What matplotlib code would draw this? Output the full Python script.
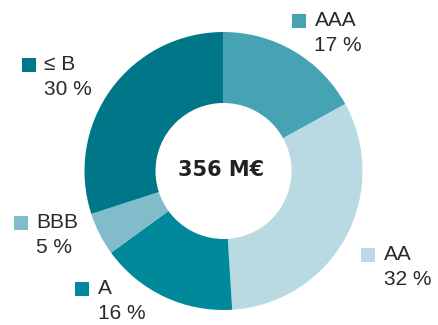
import matplotlib
matplotlib.use("Agg")
import matplotlib.pyplot as plt
from matplotlib.patches import Rectangle, Circle

# Portfolio breakdown by rating
categories = ["AAA", "AA", "A", "BBB", "≤ B"]
shares = [17, 32, 16, 5, 30]
colors = ["#45a3b3", "#b9dae3", "#00899b", "#80bcca", "#007788"]
total_label = "356 M€"

W, H = 438, 325
fig = plt.figure(figsize=(W / 100, H / 100), dpi=100)
ax = fig.add_axes([0, 0, 1, 1])

cx, cy, r_out, r_in = 223.5, H - 171, 139, 68

ax.pie(shares, colors=colors, startangle=90, counterclock=False,
       center=(cx, cy), radius=r_out, frame=True,
       wedgeprops=dict(linewidth=0))
ax.set_xlim(0, W)
ax.set_ylim(0, H)
ax.set_aspect("equal")
ax.axis("off")
ax.add_patch(Circle((cx, cy), r_in, facecolor="white", edgecolor="none", zorder=3))
ax.text(cx - 2, cy + 0.5, total_label, ha="center", va="center", fontsize=15,
        fontweight="bold", color="#222222", family="DejaVu Sans", zorder=4)

# label anchors: top-left of the colour square (x, y from top)
anchors = {
    "AAA": (292, 14),
    "AA": (361, 248),
    "A": (75, 282),
    "BBB": (14, 216),
    "≤ B": (22, 58),
}
sq = 14
txt_color = "#2a2a2a"
label_font = ["Liberation Sans Narrow", "Liberation Sans", "DejaVu Sans"]
for cat, val, col in zip(categories, shares, colors):
    x0, y0 = anchors[cat]
    ax.add_patch(Rectangle((x0, H - y0 - sq), sq, sq, facecolor=col,
                           edgecolor="none", zorder=4))
    tx = x0 + sq + 8.5
    ax.text(tx, H - y0 - sq / 2, cat, ha="left", va="center",
            fontsize=15, color=txt_color, family=label_font)
    ax.text(tx, H - y0 - sq / 2 - 24.5, f"{val} %", ha="left", va="center",
            fontsize=15, color=txt_color, family=label_font)

fig.savefig("out.png", dpi=100)
